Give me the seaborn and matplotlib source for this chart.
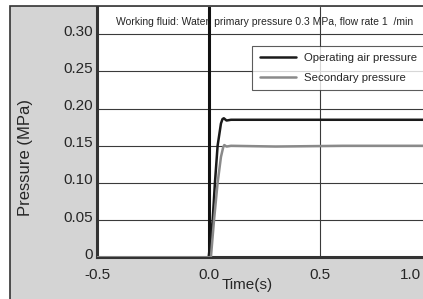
import numpy as np
import pandas as pd
import seaborn as sns
import matplotlib.pyplot as plt
from matplotlib.patches import Rectangle
from matplotlib.transforms import ScaledTranslation

# values
op_time = [-0.5, 0.0, 0.018, 0.028, 0.04, 0.055, 0.062, 0.068, 0.08, 0.1, 0.3, 0.6, 1.0]
op_pressure = [0.0, 0.0, 0.05, 0.10, 0.15, 0.18, 0.186, 0.187, 0.184, 0.185, 0.185, 0.185, 0.185]
sec_time = [-0.5, 0.01, 0.024, 0.04, 0.055, 0.065, 0.07, 0.08, 0.1, 0.3, 0.6, 1.0]
sec_pressure = [0.0, 0.0, 0.05, 0.10, 0.135, 0.148, 0.151, 0.149, 0.15, 0.149, 0.15, 0.15]
series_names = ["Operating air pressure", "Secondary pressure"]
x_ticks = [-0.5, 0.0, 0.5, 1.0]
x_labels = ["-0.5", "0.0", "0.5", "1.0"]
y_ticks = [0, 0.05, 0.10, 0.15, 0.20, 0.25, 0.30]
y_labels = ["0", "0.05", "0.10", "0.15", "0.20", "0.25", "0.30"]

df = pd.concat([
    pd.DataFrame({"t": op_time, "p": op_pressure, "s": series_names[0]}),
    pd.DataFrame({"t": sec_time, "p": sec_pressure, "s": series_names[1]}),
])

sns.set_style("white")
plt.rcParams['font.family'] = ['Liberation Sans', 'DejaVu Sans']

fig = plt.figure(figsize=(4.23, 2.99), dpi=100)
fig.patch.set_facecolor("white")
# gray panel behind the chart
fig.patches.append(Rectangle((10 / 423, -0.1), 1.1, (299 - 6) / 299 + 0.1,
                             transform=fig.transFigure, facecolor="#d4d4d4",
                             edgecolor="#333333", lw=1.2, zorder=-5))

ax = fig.add_axes([97 / 423, 41.7 / 299, 335 / 423, 250.3 / 299])
ax.set_facecolor("white")

sns.lineplot(data=df, x="t", y="p", hue="s", sort=False, estimator=None,
             palette={series_names[0]: "#1a1a1a", series_names[1]: "#8a8a8a"},
             lw=1.8, ax=ax, zorder=4)

ax.set_xlim(-0.5, 1.0)
ax.set_ylim(0, 0.3367)
ax.set_xticks(x_ticks)
ax.set_xticklabels(x_labels, fontsize=11)
ax.set_yticks(y_ticks)
ax.set_yticklabels(y_labels, fontsize=11)
ax.tick_params(axis="x", length=0, pad=7.5)
ax.tick_params(axis="y", length=0, pad=3)
for lab in ax.get_yticklabels():
    lab.set_transform(lab.get_transform() + ScaledTranslation(0, 4 / 100, fig.dpi_scale_trans))
# last x label sits at the cut edge, pull it inside
last = ax.get_xticklabels()[-1]
last.set_transform(last.get_transform() + ScaledTranslation(-22 / 100, 0, fig.dpi_scale_trans))
ax.grid(True, color="#3a3a3a", lw=0.8)
ax.axvline(0.0, color="#111111", lw=2.2, zorder=3)

for side in ["top", "right"]:
    ax.spines[side].set_visible(False)
for side in ["left", "bottom"]:
    ax.spines[side].set_color("#333333")
    ax.spines[side].set_linewidth(2.2)

ax.set_xlabel("Time(s)", fontsize=11)
ax.xaxis.set_label_coords(0.448, -0.084)
ax.set_ylabel("Pressure (MPa)", fontsize=12)
ax.yaxis.set_label_coords(-0.19, 0.40)

ax.text(0.5, 0.94, "Working fluid: Water, primary pressure 0.3 MPa, flow rate 1  /min",
        ha="center", va="center", fontsize=7.5, transform=ax.transAxes)

leg = ax.legend(loc="upper left", bbox_to_anchor=(0.463, 0.845), borderaxespad=0,
                frameon=True, fancybox=False, handlelength=3.2, handletextpad=0.7,
                borderpad=0.65, labelspacing=0.85, prop={"size": 8.2})
leg.get_frame().set_edgecolor("#333333")
leg.get_frame().set_linewidth(0.8)
leg.set_zorder(5)

fig.savefig("out.png", dpi=100)
